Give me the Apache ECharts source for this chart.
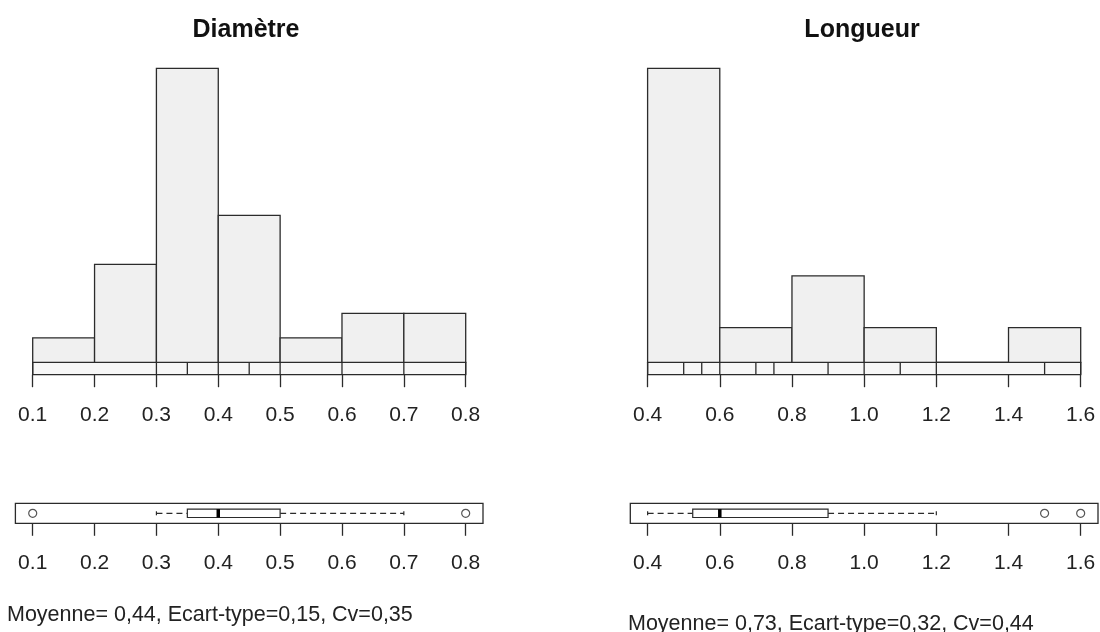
<!DOCTYPE html>
<html>
<head>
<meta charset="utf-8">
<script src="https://cdn.jsdelivr.net/npm/echarts@6/dist/echarts.min.js"></script>
<style>
html,body{margin:0;padding:0;background:#fff;}
#chart{width:1100px;height:632px;}
</style>
</head>
<body>
<div id="chart"></div>
<script>
// ---- Data ----
const diamTitle = 'Diamètre';
const longTitle = 'Longueur';
const diamBreaks = [0.1, 0.2, 0.3, 0.4, 0.5, 0.6, 0.7, 0.8];
const diamCounts = [1, 4, 12, 6, 1, 2, 2];
const longBreaks = [0.4, 0.6, 0.8, 1.0, 1.2, 1.4, 1.6];
const longCounts = [17, 2, 5, 2, 0, 2];
const diamRug = [0.1, 0.3, 0.35, 0.4, 0.45, 0.5, 0.6, 0.7, 0.8];
const longRug = [0.4, 0.5, 0.55, 0.6, 0.7, 0.75, 0.9, 1.0, 1.1, 1.2, 1.5, 1.6];
const diamBox = [0.3, 0.35, 0.4, 0.5, 0.7];      // whisker low, Q1, median, Q3, whisker high
const diamOutliers = [0.1, 0.8];
const longBox = [0.4, 0.525, 0.6, 0.9, 1.2];
const longOutliers = [1.5, 1.6];
const diamTicks = [0.1, 0.2, 0.3, 0.4, 0.5, 0.6, 0.7, 0.8];
const longTicks = [0.4, 0.6, 0.8, 1.0, 1.2, 1.4, 1.6];
const diamFooter = 'Moyenne= 0,44, Ecart-type=0,15, Cv=0,35';
const longFooter = 'Moyenne= 0,73, Ecart-type=0,32, Cv=0,44';

// ---- Styles ----
const LINE = '#2b2b2b';
const FILL = '#f0f0f0';
const STRIP = '#f7f7f7';
const FONT = '"Liberation Sans", Arial, Helvetica, sans-serif';
const TICK_FS = 21;

const chart = echarts.init(document.getElementById('chart'), null, {renderer: 'canvas'});

function histData(breaks, counts) {
  return counts.map((c, i) => [breaks[i], breaks[i + 1], c]);
}
function fmt(v) { return Number(v).toFixed(1); }

function histSeries(idx, breaks, counts) {
  return {
    type: 'custom', xAxisIndex: idx, yAxisIndex: idx,
    data: histData(breaks, counts),
    encode: {x: [0, 1], y: 2},
    renderItem: function (params, api) {
      const a = api.coord([api.value(0), api.value(2)]);
      const b = api.coord([api.value(1), 0]);
      return {
        type: 'rect',
        shape: {x: a[0], y: a[1], width: b[0] - a[0], height: b[1] - a[1]},
        style: {fill: FILL, stroke: LINE, lineWidth: 1.3}
      };
    }
  };
}
function rugSeries(idx, values) {
  return {
    type: 'custom', xAxisIndex: idx, yAxisIndex: idx,
    data: values.map(v => [v]),
    encode: {x: 0},
    renderItem: function (params, api) {
      const p0 = api.coord([api.value(0), 0]);
      const p1 = api.coord([api.value(0), 1]);
      return {
        type: 'line',
        shape: {x1: p0[0], y1: p0[1], x2: p1[0], y2: p1[1]},
        style: {stroke: LINE, lineWidth: 1.3}
      };
    }
  };
}
function boxSeries(idx, stats) {
  return {
    type: 'custom', xAxisIndex: idx, yAxisIndex: idx,
    data: [stats],
    encode: {x: [0, 1, 2, 3, 4]},
    renderItem: function (params, api) {
      const lo = api.value(0), q1 = api.value(1), md = api.value(2), q3 = api.value(3), hi = api.value(4);
      const c = 0.5, bh = 0.21, sh = 0.1;
      const pLo = api.coord([lo, c]), pQ1 = api.coord([q1, c]), pQ3 = api.coord([q3, c]), pHi = api.coord([hi, c]);
      const bt = api.coord([q1, c + bh]), bb = api.coord([q3, c - bh]);
      const mt = api.coord([md, c + bh]), mb = api.coord([md, c - bh]);
      const sLoT = api.coord([lo, c + sh]), sLoB = api.coord([lo, c - sh]);
      const sHiT = api.coord([hi, c + sh]), sHiB = api.coord([hi, c - sh]);
      const dash = {stroke: LINE, lineWidth: 1.2, lineDash: [6, 4]};
      const solid = {stroke: LINE, lineWidth: 1.2};
      return {
        type: 'group',
        children: [
          {type: 'line', shape: {x1: pLo[0], y1: pLo[1], x2: pQ1[0], y2: pQ1[1]}, style: dash},
          {type: 'line', shape: {x1: pQ3[0], y1: pQ3[1], x2: pHi[0], y2: pHi[1]}, style: dash},
          {type: 'line', shape: {x1: sLoT[0], y1: sLoT[1], x2: sLoB[0], y2: sLoB[1]}, style: solid},
          {type: 'line', shape: {x1: sHiT[0], y1: sHiT[1], x2: sHiB[0], y2: sHiB[1]}, style: solid},
          {type: 'rect', shape: {x: bt[0], y: bt[1], width: bb[0] - bt[0], height: bb[1] - bt[1]},
            style: {fill: '#fff', stroke: LINE, lineWidth: 1.2}},
          {type: 'line', shape: {x1: mt[0], y1: mt[1], x2: mb[0], y2: mb[1]}, style: {stroke: '#000', lineWidth: 3.5}}
        ]
      };
    }
  };
}
function outlierSeries(idx, values) {
  return {
    type: 'scatter', xAxisIndex: idx, yAxisIndex: idx,
    data: values.map(v => [v, 0.5]),
    symbol: 'circle', symbolSize: 8,
    itemStyle: {color: 'rgba(0,0,0,0)', borderColor: LINE, borderWidth: 1.2},
    silent: true
  };
}
function tickAxis(gridIndex, min, max, ticks, margin) {
  return {
    type: 'value', gridIndex: gridIndex, min: min, max: max, position: 'bottom',
    axisLine: {show: false},
    splitLine: {show: false},
    axisTick: {show: true, length: 12.5, lineStyle: {color: LINE, width: 1.3}, customValues: ticks},
    axisLabel: {show: true, customValues: ticks, formatter: fmt, margin: margin,
      color: '#222', fontSize: TICK_FS, fontFamily: FONT}
  };
}
function hiddenX(gridIndex, min, max) {
  return {type: 'value', gridIndex: gridIndex, min: min, max: max, show: false};
}
function hiddenY(gridIndex, max) {
  return {type: 'value', gridIndex: gridIndex, min: 0, max: max, show: false};
}

// box axis padding: 4% of the data range on each side (R boxplot style)
function padMin(t) { return t[0] - 0.04 * (t[t.length - 1] - t[0]); }
function padMax(t) { return t[t.length - 1] + 0.04 * (t[t.length - 1] - t[0]); }

const dMin = diamTicks[0], dMax = diamTicks[diamTicks.length - 1];
const lMin = longTicks[0], lMax = longTicks[longTicks.length - 1];

const titleStyle = {fontFamily: FONT, fontSize: 25, fontWeight: 'bold', color: '#111'};
const footStyle = {fontFamily: FONT, fontSize: 21.5, fontWeight: 'normal', color: '#222'};

const option = {
  animation: false,
  backgroundColor: '#fff',
  title: [
    {text: diamTitle, left: 246, top: 18, textAlign: 'center', padding: 0, textStyle: titleStyle},
    {text: longTitle, left: 862, top: 18, textAlign: 'center', padding: 0, textStyle: titleStyle},
    {text: diamFooter, left: 7, top: 604, padding: 0, textStyle: footStyle},
    {text: longFooter, left: 628, top: 613, padding: 0, textStyle: footStyle}
  ],
  grid: [
    // 0 left histogram
    {left: 32.7, width: 433, top: 68.3, height: 294, show: false},
    // 1 left strip
    {left: 32.7, width: 433, top: 362.3, height: 12.4, show: true, backgroundColor: STRIP, borderColor: LINE, borderWidth: 1.3},
    // 2 left boxplot
    {left: 15.4, width: 467.6, top: 503.3, height: 20, show: true, backgroundColor: '#fff', borderColor: LINE, borderWidth: 1.3},
    // 3 right histogram
    {left: 647.6, width: 433.1, top: 68.3, height: 294, show: false},
    // 4 right strip
    {left: 647.6, width: 433.1, top: 362.3, height: 12.4, show: true, backgroundColor: STRIP, borderColor: LINE, borderWidth: 1.3},
    // 5 right boxplot
    {left: 630.3, width: 467.7, top: 503.3, height: 20, show: true, backgroundColor: '#fff', borderColor: LINE, borderWidth: 1.3}
  ],
  xAxis: [
    hiddenX(0, dMin, dMax),
    tickAxis(1, dMin, dMax, diamTicks, 30),
    tickAxis(2, padMin(diamTicks), padMax(diamTicks), diamTicks, 29),
    hiddenX(3, lMin, lMax),
    tickAxis(4, lMin, lMax, longTicks, 30),
    tickAxis(5, padMin(longTicks), padMax(longTicks), longTicks, 29)
  ],
  yAxis: [
    hiddenY(0, Math.max.apply(null, diamCounts)),
    hiddenY(1, 1),
    hiddenY(2, 1),
    hiddenY(3, Math.max.apply(null, longCounts)),
    hiddenY(4, 1),
    hiddenY(5, 1)
  ],
  series: [
    histSeries(0, diamBreaks, diamCounts),
    rugSeries(1, diamRug),
    boxSeries(2, diamBox),
    outlierSeries(2, diamOutliers),
    histSeries(3, longBreaks, longCounts),
    rugSeries(4, longRug),
    boxSeries(5, longBox),
    outlierSeries(5, longOutliers)
  ]
};
chart.setOption(option);
</script>
</body>
</html>
